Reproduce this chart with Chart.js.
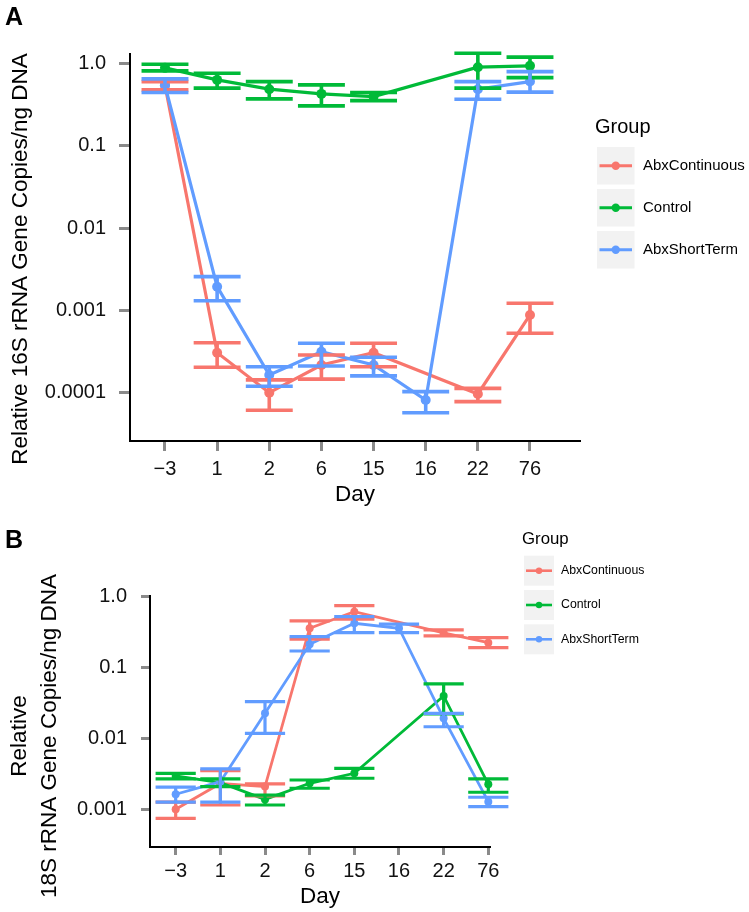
<!DOCTYPE html>
<html>
<head>
<meta charset="utf-8">
<script src="https://cdn.jsdelivr.net/npm/chart.js@4.4.0/dist/chart.umd.min.js"></script>
<style>
  body { margin: 0; background: #fff; width: 749px; height: 912px; position: relative; overflow: hidden; }
  canvas { position: absolute; left: 0; }
  .tag { position: absolute; left: 5px; font: bold 25px/25px "Liberation Sans", Arial, sans-serif; color: #000; }
</style>
</head>
<body>
<canvas id="chartA" style="top:0" width="749" height="510"></canvas>
<canvas id="chartB" style="top:510px" width="749" height="402"></canvas>
<div class="tag" style="top:4px">A</div>
<div class="tag" style="top:527px">B</div>
<script>
const FONT = '"Liberation Sans", Arial, sans-serif';

// x categories (days)
const days = ['−3', '1', '2', '6', '15', '16', '22', '76'];
const groups = ['AbxContinuous', 'Control', 'AbxShortTerm'];
const colours = ['#F8766D', '#00BA38', '#619CFF'];

// Panel A: 16S rRNA, mean with lower / upper error
const contA   = [0.542, 0.000306, 0.0001,   0.000217, 0.000306, null, 0.0000965, 0.000879];
const contLoA = [0.477, 0.000204, 0.0000612, 0.000146, 0.000207, null, 0.0000778, 0.000527];
const contHiA = [0.601, 0.000405, 0.000143, 0.000287, 0.000398, null, 0.000113, 0.00122];

const ctrlA   = [0.882, 0.630, 0.486, 0.426, 0.395, null, 0.899, 0.933];
const ctrlLoA = [0.811, 0.500, 0.371, 0.305, 0.353, null, 0.500, 0.672];
const ctrlHiA = [0.978, 0.760, 0.601, 0.548, 0.442, null, 1.33, 1.19];

const shortA   = [0.542, 0.00194, 0.000164, 0.000315, 0.000217, 0.0000814, 0.486, 0.601];
const shortLoA = [0.442, 0.00131, 0.000120, 0.000211, 0.000160, 0.0000571, 0.367, 0.447];
const shortHiA = [0.648, 0.00257, 0.000207, 0.000398, 0.000269, 0.000103, 0.601, 0.795];

// Panel B: 18S rRNA
const contB   = [0.001,    0.00231, 0.00209, 0.358, 0.614, null, 0.307, 0.224];
const contLoB = [0.000747, 0.00115, 0.00154, 0.251, 0.480, null, 0.279, 0.191];
const contHiB = [0.00126,  0.00351, 0.00228, 0.454, 0.747, null, 0.339, 0.264];

const ctrlB   = [0.00295, 0.00238, 0.00138, 0.00233, 0.00322, null, 0.0397, 0.00225];
const ctrlLoB = [0.00268, 0.00209, 0.00115, 0.00198, 0.00274, null, 0.0221, 0.00174];
const ctrlHiB = [0.00322, 0.00268, 0.00159, 0.00259, 0.00379, null, 0.0586, 0.00268];

const shortB   = [0.00163, 0.00245, 0.0226, 0.213, 0.421, 0.358, 0.0192, 0.00128];
const shortLoB = [0.00126, 0.00126, 0.0118, 0.171, 0.310, 0.310, 0.0146, 0.00109];
const shortHiB = [0.00205, 0.00371, 0.033,  0.273, 0.522, 0.408, 0.0226, 0.00148];

// y tick values and labels
const yTicksA = [0.0001, 0.001, 0.01, 0.1, 1];
const yLabelsA = ['0.0001', '0.001', '0.01', '0.1', '1.0'];
const yTicksB = [0.001, 0.01, 0.1, 1];
const yLabelsB = ['0.001', '0.01', '0.1', '1.0'];

Chart.defaults.font.family = FONT;

// draws the mean +/- error bars with caps
const errorBars = {
  id: 'errorBars',
  afterDatasetsDraw(chart, args, opts) {
    const { ctx, scales: { x, y } } = chart;
    ctx.save();
    ctx.lineWidth = opts.width;
    chart.data.datasets.forEach(ds => {
      ctx.strokeStyle = ds.borderColor;
      ds.lo.forEach((lo, i) => {
        if (lo == null) return;
        const px = x.getPixelForValue(i);
        const l = x.getPixelForValue(i - opts.half);
        const r = x.getPixelForValue(i + opts.half);
        const yl = y.getPixelForValue(lo);
        const yh = y.getPixelForValue(ds.hi[i]);
        ctx.beginPath();
        ctx.moveTo(px, yl); ctx.lineTo(px, yh);
        ctx.moveTo(l, yl); ctx.lineTo(r, yl);
        ctx.moveTo(l, yh); ctx.lineTo(r, yh);
        ctx.stroke();
      });
    });
    ctx.restore();
  }
};

// y axis title, rotated; centred like ggplot rather than on the scale
const yTitle = {
  id: 'yTitle',
  afterDraw(chart, args, o) {
    const ctx = chart.ctx;
    ctx.save();
    ctx.fillStyle = '#000';
    ctx.font = o.size + 'px ' + FONT;
    ctx.textAlign = 'center';
    ctx.textBaseline = 'middle';
    o.lines.forEach((t, i) => {
      ctx.save();
      ctx.translate(o.xs[i], o.cy);
      ctx.rotate(-Math.PI / 2);
      ctx.fillText(t, 0, 0);
      ctx.restore();
    });
    ctx.restore();
  }
};

// ggplot-like legend with grey key boxes
const groupLegend = {
  id: 'groupLegend',
  afterDraw(chart, args, o) {
    const ctx = chart.ctx;
    ctx.save();
    ctx.textAlign = 'left';
    ctx.textBaseline = 'middle';
    ctx.fillStyle = '#000';
    ctx.font = o.titleSize + 'px ' + FONT;
    ctx.fillText('Group', o.titleX, o.titleY);
    chart.data.datasets.forEach((ds, i) => {
      const top = o.top + i * o.pitch;
      const cy = top + o.size / 2;
      ctx.fillStyle = '#F2F2F2';
      ctx.fillRect(o.left, top, o.size, o.size);
      ctx.strokeStyle = ds.borderColor;
      ctx.lineWidth = o.lineWidth;
      ctx.beginPath();
      ctx.moveTo(o.left + o.inset, cy);
      ctx.lineTo(o.left + o.size - o.inset, cy);
      ctx.stroke();
      ctx.fillStyle = ds.borderColor;
      ctx.beginPath();
      ctx.arc(o.left + o.size / 2, cy, o.dot, 0, Math.PI * 2);
      ctx.fill();
      ctx.fillStyle = '#000';
      ctx.font = o.labelSize + 'px ' + FONT;
      ctx.fillText(ds.label, o.labelX, cy);
    });
    ctx.restore();
  }
};

function series(vals, lo, hi, k, lw, pr) {
  return {
    label: groups[k],
    data: vals.map((v, i) => ({ x: i, y: v })),
    lo: lo, hi: hi,
    borderColor: colours[k],
    backgroundColor: colours[k],
    pointBackgroundColor: colours[k],
    pointBorderWidth: 0,
    borderWidth: lw,
    pointRadius: pr,
    spanGaps: true,
    clip: false,
    order: 2 - k
  };
}

function makeChart(id, p) {
  const tickCol = '#8a8a8a';
  new Chart(document.getElementById(id), {
    type: 'line',
    data: { datasets: p.datasets },
    options: {
      responsive: false,
      animation: false,
      events: [],
      layout: { padding: p.padding },
      plugins: {
        legend: { display: false },
        tooltip: { enabled: false },
        errorBars: p.err,
        yTitle: p.yTitle,
        groupLegend: p.legend
      },
      scales: {
        x: {
          type: 'linear', min: p.xMin, max: p.xMax,
          afterBuildTicks: s => { s.ticks = days.map((d, i) => ({ value: i })); },
          afterFit: s => { s.height = p.xHeight; },
          ticks: { autoSkip: false, maxRotation: 0, padding: p.xPad, color: '#111', font: { size: 20 },
                   callback: v => days[Math.round(v)] },
          grid: { drawOnChartArea: false, tickLength: p.xTick, tickWidth: 3, tickColor: tickCol },
          border: { color: '#000', width: 2 },
          title: { display: true, text: 'Day', color: '#000', font: { size: 22.5, lineHeight: 1.2 },
                   padding: { top: 0, bottom: p.xTitlePad } }
        },
        y: {
          type: 'logarithmic', min: p.yMin, max: p.yMax,
          afterBuildTicks: s => { s.ticks = p.yTicks.map(v => ({ value: v })); },
          afterFit: s => { s.width = p.yWidth; },
          ticks: { padding: p.yPad, color: '#111', font: { size: 20 },
                   callback: (v, i) => p.yLabels[i] },
          grid: { drawOnChartArea: false, tickLength: p.yTick, tickWidth: 3, tickColor: tickCol },
          border: { color: '#000', width: 2 }
        }
      }
    },
    plugins: [errorBars, yTitle, groupLegend]
  });
}

makeChart('chartA', {
  datasets: [
    series(contA, contLoA, contHiA, 0, 3.2, 5),
    series(ctrlA, ctrlLoA, ctrlHiA, 1, 3.2, 5),
    series(shortA, shortLoA, shortHiA, 2, 3.2, 5)
  ],
  padding: { left: 0, top: 54, right: 169, bottom: 0 },
  xMin: -0.671, xMax: 7.959, xHeight: 69, xPad: 6, xTick: 10, xTitlePad: 1.5,
  yMin: 2.59e-5, yMax: 1.30, yTicks: yTicksA, yLabels: yLabelsA, yWidth: 130, yPad: 13, yTick: 11,
  yTitle: { lines: ['Relative 16S rRNA Gene Copies/ng DNA'], xs: [21], cy: 259, size: 22.5 },
  err: { width: 3.6, half: 0.45 },
  legend: { titleX: 595, titleY: 127.7, titleSize: 20, left: 597, top: 147, size: 37.5, pitch: 42,
            inset: 2.5, lineWidth: 3.2, dot: 4.2, labelX: 643, labelSize: 15 }
});

makeChart('chartB', {
  datasets: [
    series(contB, contLoB, contHiB, 0, 2.8, 4),
    series(ctrlB, ctrlLoB, ctrlHiB, 1, 2.8, 4),
    series(shortB, shortLoB, shortHiB, 2, 2.8, 4)
  ],
  padding: { left: 0, top: 86, right: 259, bottom: 0 },
  xMin: -0.575, xMax: 7.038, xHeight: 65, xPad: 4, xTick: 8, xTitlePad: 1.8,
  yMin: 2.94e-4, yMax: 1.02, yTicks: yTicksB, yLabels: yLabelsB, yWidth: 150, yPad: 14, yTick: 9,
  yTitle: { lines: ['Relative', '18S rRNA Gene Copies/ng DNA'], xs: [20, 50], cy: 226, size: 22.5 },
  err: { width: 3.2, half: 0.45 },
  legend: { titleX: 522, titleY: 29, titleSize: 16.8, left: 524, top: 45.7, size: 30, pitch: 34.3,
            inset: 2, lineWidth: 2.6, dot: 3.2, labelX: 561, labelSize: 12.3 }
});
</script>
</body>
</html>
